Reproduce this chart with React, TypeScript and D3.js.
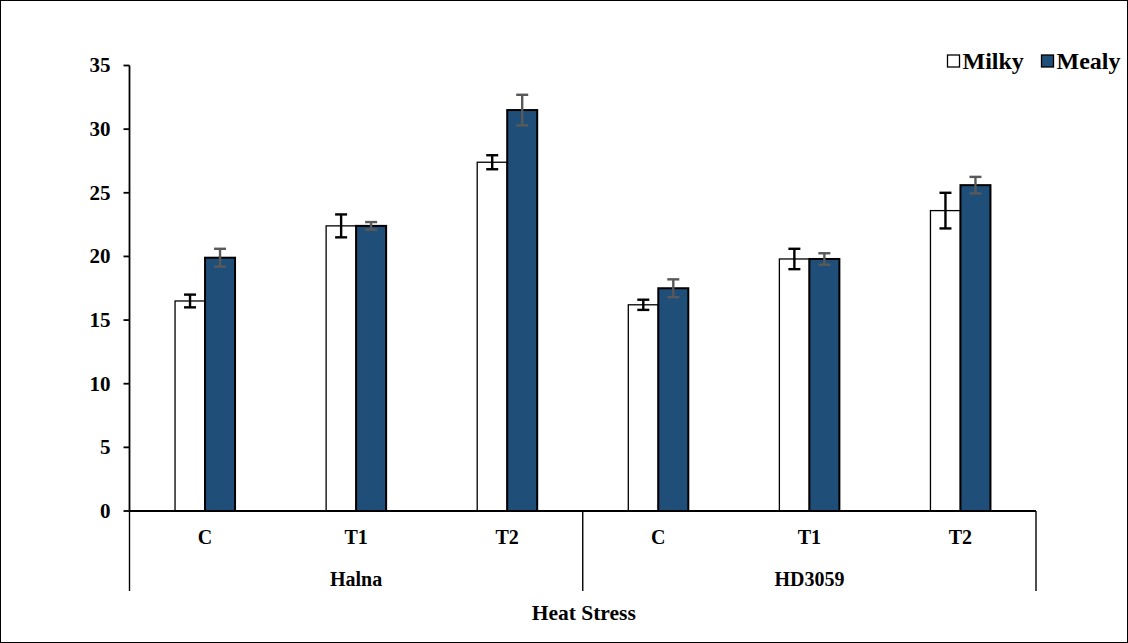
import React from "react";
import * as d3 from "d3";

const groups = ["Halna", "HD3059"];
const treatments = ["C", "T1", "T2"];
const seriesNames = ["Milky", "Mealy"];
const milkyValues = [16.5, 22.4, 27.4, 16.2, 19.8, 23.6];
const milkyErrors = [0.5, 0.9, 0.55, 0.4, 0.8, 1.4];
const mealyValues = [19.9, 22.4, 31.5, 17.5, 19.8, 25.6];
const mealyErrors = [0.7, 0.3, 1.2, 0.7, 0.45, 0.65];
const yTicks = [0, 5, 10, 15, 20, 25, 30, 35];

const W = 1128;
const H = 643;
const left = 129.5;
const right = 1036;
const top = 65.5;
const bottom = 511;
const font = "'Liberation Serif', 'Times New Roman', serif";

export default function App() {
  const categories = groups.flatMap((g) => treatments.map((t) => `${g}|${t}`));
  const x = d3.scaleBand<string>().domain(categories).range([left, right]);
  const y = d3.scaleLinear().domain([0, 35]).range([bottom, top]);
  const barW = 30;
  const series = [
    { name: seriesNames[0], values: milkyValues, errors: milkyErrors, fill: "#ffffff", err: "#000000" },
    { name: seriesNames[1], values: mealyValues, errors: mealyErrors, fill: "#1F4E79", err: "#595959" },
  ];
  const groupW = x.bandwidth() * treatments.length;

  return (
    <svg width={W} height={H} style={{ position: "absolute", left: 0, top: 0 }} fontFamily={font}>
      <rect x={0.5} y={0.5} width={W - 1} height={H - 1} fill="#fff" stroke="#000" strokeWidth={1} />

      {/* y axis */}
      <line x1={left} x2={left} y1={top} y2={bottom} stroke="#000" strokeWidth={1.8} />
      {yTicks.map((t) => (
        <g key={t}>
          <line x1={left - 6} x2={left} y1={y(t)} y2={y(t)} stroke="#000" strokeWidth={1.8} />
          <text x={left - 19} y={y(t)} dy="0.33em" textAnchor="end" fontSize={21} fontWeight="bold">
            {t}
          </text>
        </g>
      ))}

      {/* bars */}
      {categories.map((c, i) => {
        const cx = (x(c) as number) + x.bandwidth() / 2;
        return (
          <g key={c}>
            {series.map((s, si) => {
              const bx = cx - barW + si * barW;
              return (
                <rect
                  key={s.name}
                  x={bx}
                  y={y(s.values[i])}
                  width={barW}
                  height={bottom - y(s.values[i])}
                  fill={s.fill}
                  stroke="#000"
                  strokeWidth={si === 0 ? 1.3 : 2}
                />
              );
            })}
            {series.map((s, si) => {
              const ex = cx - barW / 2 + si * barW;
              const y1 = y(s.values[i] + s.errors[i]);
              const y2 = y(s.values[i] - s.errors[i]);
              return (
                <g key={s.name + "e"} stroke={s.err} strokeWidth={2.4}>
                  <line x1={ex} x2={ex} y1={y1} y2={y2} />
                  <line x1={ex - 6} x2={ex + 6} y1={y1} y2={y1} />
                  <line x1={ex - 6} x2={ex + 6} y1={y2} y2={y2} />
                </g>
              );
            })}
            <text x={cx} y={537} dy="0.35em" textAnchor="middle" fontSize={20} fontWeight="bold">
              {treatments[i % treatments.length]}
            </text>
          </g>
        );
      })}

      {/* x axis */}
      <line x1={left} x2={right} y1={bottom} y2={bottom} stroke="#000" strokeWidth={2.2} />
      {[0, 1, 2].map((k) => (
        <line
          key={k}
          x1={left + k * groupW}
          x2={left + k * groupW}
          y1={bottom}
          y2={591}
          stroke="#000"
          strokeWidth={1.4}
        />
      ))}
      {groups.map((g, k) => (
        <text
          key={g}
          x={left + k * groupW + groupW / 2}
          y={579}
          dy="0.35em"
          textAnchor="middle"
          fontSize={20}
          fontWeight="bold"
        >
          {g}
        </text>
      ))}
      <text x={(left + right) / 2 + 1} y={612} dy="0.35em" textAnchor="middle" fontSize={21.5} fontWeight="bold">
        Heat Stress
      </text>

      {/* legend */}
      {series.map((s, si) => {
        const lx = si === 0 ? 947.5 : 1041.5;
        return (
          <g key={s.name + "l"}>
            <rect x={lx} y={55} width={12} height={12} fill={s.fill} stroke="#000" strokeWidth={1.3} />
            <text x={lx + 15} y={61} dy="0.35em" fontSize={24} fontWeight="bold">
              {s.name}
            </text>
          </g>
        );
      })}
    </svg>
  );
}
